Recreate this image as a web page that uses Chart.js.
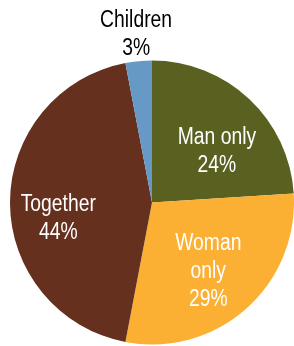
<!DOCTYPE html>
<html>
<head>
<meta charset="utf-8">
<script src="https://cdn.jsdelivr.net/npm/chart.js@4.4.0/dist/chart.umd.min.js"></script>
<style>
    html, body { margin: 0; padding: 0; background: #fff; }
    #wrap { width: 294px; height: 346px; position: relative; }
</style>
</head>
<body>
<div id="wrap"><canvas id="pieChart"></canvas></div>
<script>
const labels = [["Man only"], ["Woman", "only"], ["Together"], ["Children"]];
const shares = [24, 29, 44, 3];
const colors = ["#5a6020", "#fbb034", "#65301e", "#6699c6"];
// label placement: fraction of radius, and turn from the slice middle (degrees)
const labelRadius = [0.58, 0.63, 0.67, 1.19];
const labelTurn = [8.8, 2.4, -10, 0];
const labelColors = ["#fff", "#fff", "#fff", "#000"];

const sliceLabels = {
    id: "sliceLabels",
    afterDatasetsDraw(chart) {
        const ctx = chart.ctx;
        const meta = chart.getDatasetMeta(0);
        ctx.save();
        ctx.font = '23px "Liberation Sans", Arial, sans-serif';
        ctx.textAlign = "center";
        ctx.textBaseline = "middle";
        meta.data.forEach((arc, i) => {
            const p = arc.getProps(["x", "y", "startAngle", "endAngle", "outerRadius"], true);
            const mid = (p.startAngle + p.endAngle) / 2 + labelTurn[i] * Math.PI / 180;
            const r = p.outerRadius * labelRadius[i];
            const cx = p.x + Math.cos(mid) * r;
            const cy = p.y + Math.sin(mid) * r;
            const lines = labels[i].concat([shares[i] + "%"]);
            const lh = 28;
            const top = cy - (lines.length - 1) * lh / 2;
            ctx.fillStyle = labelColors[i];
            lines.forEach((t, j) => {
                // narrow the text like the original condensed font
                ctx.save();
                ctx.translate(cx, top + j * lh);
                ctx.scale(0.84, 1);
                ctx.fillText(t, 0, 0);
                ctx.restore();
            });
        });
        ctx.restore();
    }
};

new Chart(document.getElementById("pieChart"), {
    type: "pie",
    data: {
        labels: labels.map(l => l.join(" ")),
        datasets: [{
            data: shares,
            backgroundColor: colors,
            borderWidth: 0
        }]
    },
    options: {
        responsive: true,
        maintainAspectRatio: false,
        animation: false,
        layout: { padding: { left: 10, right: 0, top: 60, bottom: 1 } },
        plugins: {
            legend: { display: false },
            tooltip: { enabled: false }
        }
    },
    plugins: [sliceLabels]
});
</script>
</body>
</html>
